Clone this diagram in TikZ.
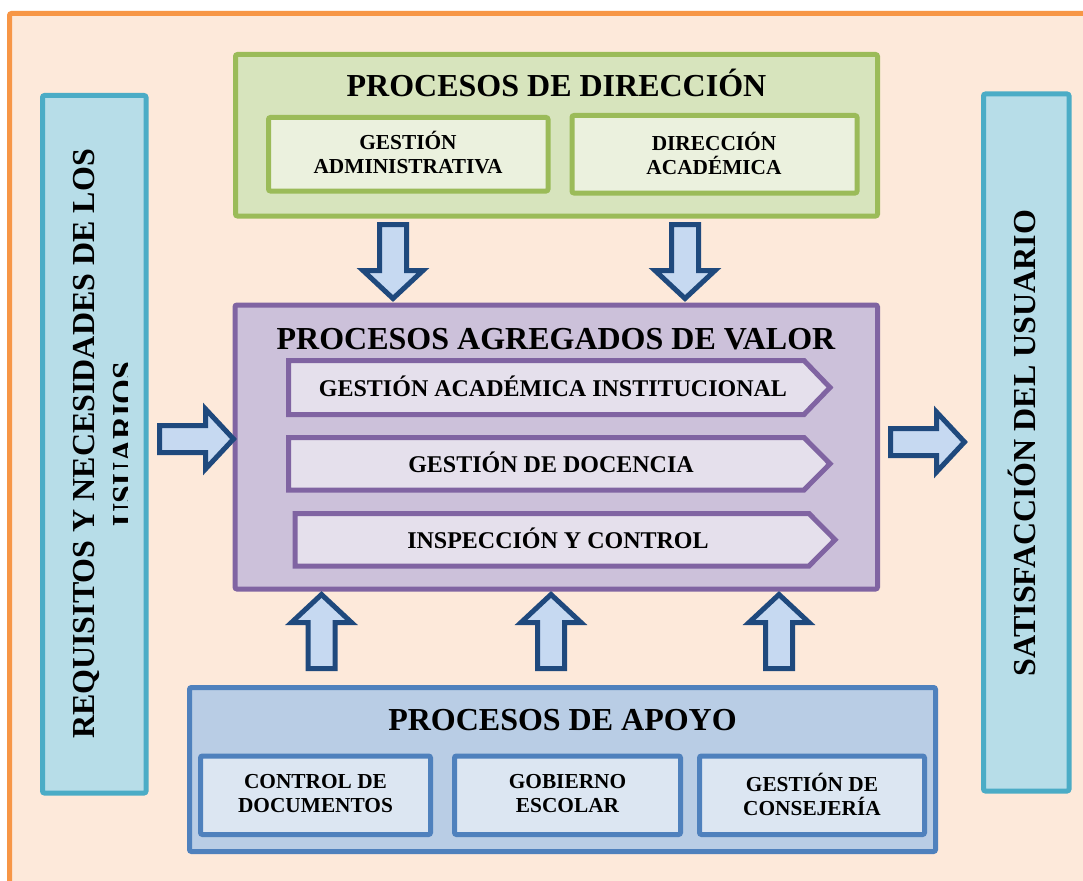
\documentclass[tikz,border=0pt]{standalone}
\usepackage{fontspec}
\setmainfont{Liberation Serif}
\definecolor{orgD}{HTML}{F79646}
\definecolor{orgF}{HTML}{FDE9DA}
\definecolor{cyaD}{HTML}{4BACC6}
\definecolor{cyaF}{HTML}{B7DDE8}
\definecolor{grnD}{HTML}{9BBB59}
\definecolor{grnF}{HTML}{D7E4BD}
\definecolor{grnI}{HTML}{EBF1DE}
\definecolor{purD}{HTML}{8064A2}
\definecolor{purF}{HTML}{CCC1DA}
\definecolor{purI}{HTML}{E5E0EC}
\definecolor{bluD}{HTML}{4F81BD}
\definecolor{bluF}{HTML}{B9CDE5}
\definecolor{bluI}{HTML}{DCE6F2}
\definecolor{arrD}{HTML}{1F497D}
\definecolor{arrF}{HTML}{C6D9F1}
\begin{document}
\begin{tikzpicture}[x=0.75pt,y=-0.75pt,
  boxline/.style={line width=3.75pt, rounded corners=1.5pt},
  arrowstyle/.style={draw=arrD, fill=arrF, line width=3.75pt, line join=miter},
  bigtitle/.style={font=\fontsize{24}{28}\selectfont\bfseries, anchor=base, inner sep=0pt},
  sidetext/.style={font=\fontsize{24}{28}\selectfont\bfseries, anchor=base, inner sep=0pt, rotate=90},
  midtext/.style={font=\fontsize{18}{21}\selectfont\bfseries, anchor=base, inner sep=0pt},
  smalltext/.style={font=\fontsize{16}{18}\selectfont\bfseries, align=center, inner sep=0pt},
  blockarrow/.pic={\draw[arrowstyle] (0,-13.5) -- (46,-13.5) -- (46,-30) -- (74,0) -- (46,30) -- (46,13.5) -- (0,13.5) -- cycle;}
]
\useasboundingbox (0,0) rectangle (1083,881);
\fill[white] (0,0) rectangle (1083,881);
% outer frame
\draw[boxline, draw=orgD, fill=orgF] (9.5,13.5) rectangle (1100,900);

% left side box
\draw[boxline, draw=cyaD, fill=cyaF] (42.5,95.5) rectangle (146,793);
\node[sidetext] (req1) at (94,444) {REQUISITOS Y NECESIDADES DE LOS};
\begin{scope}
  \clip (0,0) rectangle (127,881);
  \node[sidetext] (req2) at (134.5,444) {USUARIOS};
\end{scope}

% right side box
\draw[boxline, draw=cyaD, fill=cyaF] (983.5,94) rectangle (1069,791);
\node[sidetext] (sat) at (1035,443) {SATISFACCIÓN DEL USUARIO};

% direction
\draw[boxline, draw=grnD, fill=grnF] (235.5,54.5) rectangle (877.5,216);
\node[bigtitle] (dirT) at (556.5,97) {PROCESOS DE DIRECCIÓN};
\draw[boxline, draw=grnD, fill=grnI] (268.5,117.5) rectangle (548,191);
\node[smalltext] (gadm) at (408,153) {GESTIÓN\\ADMINISTRATIVA};
\draw[boxline, draw=grnD, fill=grnI] (572,115.5) rectangle (857,193);
\node[smalltext] (dacad) at (714,153) {DIRECCIÓN\\ACADÉMICA};

% value processes
\draw[boxline, draw=purD, fill=purF] (235,305) rectangle (877.5,589);
\node[bigtitle] (valT) at (556,349) {PROCESOS AGREGADOS DE VALOR};
\draw[boxline, draw=purD, fill=purI, rounded corners=0pt] (288.5,360.5) -- (804,360.5) -- (830,387.5) -- (804,414.5) -- (288.5,414.5) -- cycle;
\node[midtext] (p1) at (553,396) {GESTIÓN ACADÉMICA INSTITUCIONAL};
\draw[boxline, draw=purD, fill=purI, rounded corners=0pt] (288.5,437.5) -- (804,437.5) -- (830,463.75) -- (804,490) -- (288.5,490) -- cycle;
\node[midtext] (p2) at (551,472) {GESTIÓN DE DOCENCIA};
\draw[boxline, draw=purD, fill=purI, rounded corners=0pt] (295,513.5) -- (809,513.5) -- (835,539.75) -- (809,566) -- (295,566) -- cycle;
\node[midtext] (p3) at (558,548) {INSPECCIÓN Y CONTROL};

% support
\draw[boxline, draw=bluD, fill=bluF] (189.5,687.5) rectangle (935.5,851.5);
\node[bigtitle] (apT) at (562.5,730) {PROCESOS DE APOYO};
\draw[boxline, draw=bluD, fill=bluI] (200.5,756) rectangle (430.5,834.5);
\node[smalltext] (cdoc) at (315.5,794) {CONTROL DE\\DOCUMENTOS};
\draw[boxline, draw=bluD, fill=bluI] (454.5,756) rectangle (680.5,834.5);
\node[smalltext] (gob) at (567.5,794) {GOBIERNO\\ESCOLAR};
\draw[boxline, draw=bluD, fill=bluI] (699.5,756) rectangle (924.5,834.5);
\node[smalltext] (cons) at (812,794) {GESTIÓN DE\\CONSEJERÍA};

% block arrows
\pic[rotate=-90] at (393,224.5) {blockarrow};
\pic[rotate=-90] at (685,224.5) {blockarrow};
\pic[rotate=90] at (321.5,668.5) {blockarrow};
\pic[rotate=90] at (551,668.5) {blockarrow};
\pic[rotate=90] at (779,668.5) {blockarrow};
\pic at (159.5,439) {blockarrow};
\pic at (890.5,442) {blockarrow};
\end{tikzpicture}
\end{document}
